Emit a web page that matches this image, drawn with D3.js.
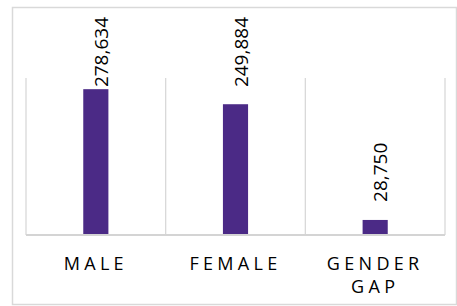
<!DOCTYPE html>
<html>
<head>
<meta charset="utf-8">
<script src="https://d3js.org/d3.v7.min.js"></script>
<style>
  body { margin: 0; background: #fff; }
  text { font-family: "Open Sans", sans-serif; fill: #000; }
</style>
</head>
<body>
<svg width="457" height="306"></svg>
<script>
// chart data
var categories = ["MALE", "FEMALE", "GENDER GAP"];
var values = [278634, 249884, 28750];
var catLines = [["MALE"], ["FEMALE"], ["GENDER", "GAP"]];

var svg = d3.select("svg");

// outer frame
svg.append("rect")
    .attr("x", 12.5).attr("y", 7.5)
    .attr("width", 444).attr("height", 297)
    .attr("fill", "none")
    .attr("stroke", "#d9d9d9")
    .attr("stroke-width", 1.5);

var x = d3.scaleBand()
    .domain(categories)
    .range([26, 445])
    .padding(0);

var y = d3.scaleLinear()
    .domain([0, 300000])
    .range([235, 78]);

// vertical gridlines between categories
var gridX = categories.map(function(d) { return x(d); }).concat([x.range()[1]]);
svg.append("g")
  .selectAll("line")
  .data(gridX)
  .enter().append("line")
    .attr("x1", function(d) { return d; })
    .attr("x2", function(d) { return d; })
    .attr("y1", y.range()[1])
    .attr("y2", y(0))
    .attr("stroke", "#d9d9d9")
    .attr("stroke-width", 1.3);

var barW = x.bandwidth() * 0.18;

svg.append("g")
  .selectAll("rect")
  .data(values)
  .enter().append("rect")
    .attr("x", function(d, i) { return x(categories[i]) + x.bandwidth() / 2 - barW / 2; })
    .attr("y", function(d) { return y(d); })
    .attr("width", barW)
    .attr("height", function(d) { return y(0) - y(d); })
    .attr("fill", "#4b2a86");

// baseline
svg.append("line")
    .attr("x1", x.range()[0]).attr("x2", x.range()[1])
    .attr("y1", y(0)).attr("y2", y(0))
    .attr("stroke", "#d4d4d4")
    .attr("stroke-width", 2);

// value labels, rotated, kept inside the frame
var fmt = d3.format(",");
svg.append("g")
  .selectAll("text")
  .data(values)
  .enter().append("text")
    .attr("font-size", 19)
    .text(function(d) { return fmt(d); })
    .attr("transform", function(d, i) {
        var cx = x(categories[i]) + x.bandwidth() / 2 + 12;
        var len = this.getComputedTextLength();
        var yy = y(d) - 18;
        if (yy - len < 17) yy = 17 + len;
        return "translate(" + cx + "," + yy + ") rotate(-90)";
    });

// category labels
var cat = svg.append("g")
  .selectAll("text")
  .data(catLines)
  .enter().append("text")
    .attr("text-anchor", "middle")
    .attr("font-size", 18)
    .attr("letter-spacing", 4.3)
    .attr("x", function(d, i) { return x(categories[i]) + x.bandwidth() / 2; })
    .attr("y", 270);

cat.selectAll("tspan")
  .data(function(d) { return d; })
  .enter().append("tspan")
    .attr("x", function() { return d3.select(this.parentNode).attr("x"); })
    .attr("dy", function(d, i) { return i == 0 ? 0 : 23; })
    .text(function(d) { return d; });
</script>
</body>
</html>
